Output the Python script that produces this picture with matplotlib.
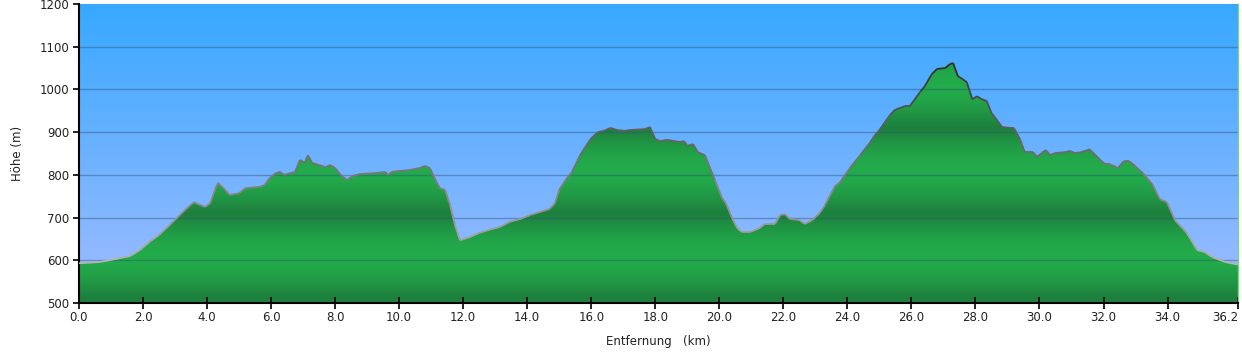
import numpy as np
import matplotlib
matplotlib.use("Agg")
import matplotlib.pyplot as plt
from matplotlib.colors import LinearSegmentedColormap
from matplotlib.patches import Polygon
from matplotlib.collections import LineCollection

# elevation profile
dist_km = [0.0, 0.66, 1.28, 1.6, 1.9, 2.2, 2.5, 2.84, 3.15, 3.47, 3.6, 3.8, 3.94, 4.1,
           4.25, 4.34, 4.56, 4.7, 5.0, 5.2, 5.65, 5.8, 5.96, 6.15, 6.28, 6.4, 6.75,
           6.9, 7.05, 7.15, 7.28, 7.5, 7.7, 7.84, 8.0, 8.15, 8.37, 8.53, 8.78, 9.24,
           9.56, 9.65, 9.78, 10.0, 10.3, 10.65, 10.8, 10.96, 11.1, 11.27, 11.43, 11.59,
           11.74, 11.9, 12.2, 12.5, 12.8, 13.15, 13.46, 13.8, 14.1, 14.4, 14.7, 14.87,
           15.0, 15.2, 15.4, 15.65, 15.96, 16.2, 16.4, 16.6, 16.8, 17.05, 17.2, 17.68,
           17.83, 18.0, 18.15, 18.36, 18.77, 18.9, 19.0, 19.18, 19.33, 19.55, 19.86,
           20.08, 20.2, 20.4, 20.55, 20.7, 20.96, 21.27, 21.42, 21.74, 21.9, 22.05,
           22.2, 22.5, 22.67, 22.9, 23.14, 23.3, 23.6, 23.77, 24.08, 24.4, 24.7, 24.86,
           25.0, 25.33, 25.48, 25.8, 25.95, 26.27, 26.42, 26.64, 26.8, 27.05, 27.2,
           27.3, 27.45, 27.6, 27.73, 27.9, 28.05, 28.2, 28.35, 28.5, 28.83, 29.08,
           29.2, 29.4, 29.54, 29.8, 29.92, 30.07, 30.2, 30.33, 30.48, 30.8, 30.95,
           31.1, 31.3, 31.5, 31.56, 31.9, 32.05, 32.2, 32.45, 32.63, 32.8, 32.98,
           33.23, 33.54, 33.76, 33.98, 34.23, 34.6, 34.92, 35.17, 35.38, 35.8, 36.2]
elev_m = [593, 596, 605, 610, 624, 643, 659, 683, 706, 729, 736, 729, 725, 734,
          765, 781, 765, 753, 757, 769, 772, 776, 793, 804, 807, 800, 807,
          835, 828, 846, 828, 823, 818, 823, 816, 802, 788, 797, 802, 804,
          807, 800, 807, 809, 811, 816, 821, 816, 793, 769, 765, 729,
          683, 647, 654, 664, 671, 678, 690, 697, 706, 713, 720, 734,
          765, 788, 807, 846, 882, 900, 903, 910, 905, 903, 905, 907,
          912, 884, 879, 882, 877, 879, 868, 872, 853, 846, 788,
          746, 734, 699, 676, 666, 666, 676, 685, 685, 706, 708,
          697, 694, 685, 694, 711, 729, 772, 783, 816, 846, 875, 893,
          905, 940, 952, 961, 961, 994, 1008, 1036, 1048, 1050, 1059,
          1062, 1031, 1024, 1017, 977, 984, 977, 973, 945, 912, 910,
          910, 882, 853, 853, 842, 851, 858, 846, 851, 853, 856,
          851, 853, 858, 860, 835, 825, 825, 816, 832, 832, 821,
          804, 776, 743, 736, 694, 664, 624, 619, 608, 596, 590]

x_ticks = [0, 2, 4, 6, 8, 10, 12, 14, 16, 18, 20, 22, 24, 26, 28, 30, 32, 34, 36.2]
y_ticks = [500, 600, 700, 800, 900, 1000, 1100, 1200]

x = np.array(dist_km)
y = np.array(elev_m)
xmax = 36.2

fig = plt.figure(figsize=(12.42, 3.53), dpi=100)
ax = fig.add_axes([79 / 1242, 1 - 303 / 353, 1159 / 1242, 299 / 353])
ax.set_xlim(0, xmax)
ax.set_ylim(500, 1200)

# sky gradient
sky = LinearSegmentedColormap.from_list("sky", ["#a2bcff", "#37a8ff"])
ax.imshow(np.linspace(0, 1, 256).reshape(-1, 1), cmap=sky, origin="lower",
          extent=[0, xmax, 500, 1200], aspect="auto", zorder=0)

# green terrain, darker bands at 500/700/900 m
h = np.linspace(500, 1200, 700)
band = (0.5 - 0.5 * np.cos(2 * np.pi * (h - 510) / 200)) ** 0.55
green = LinearSegmentedColormap.from_list("grn", ["#1d7f3d", "#23ab4b"])
terrain = Polygon(np.column_stack([np.r_[x, x[-1], x[0]], np.r_[y, 500, 500]]),
                  closed=True, facecolor="none", edgecolor="none")
ax.add_patch(terrain)
im = ax.imshow(band.reshape(-1, 1), cmap=green, origin="lower",
               extent=[0, xmax, 500, 1200], aspect="auto", zorder=1)
im.set_clip_path(terrain)

# grid lines on top
for v in y_ticks[1:-1]:
    ax.axhline(v, color="#2f5478", alpha=0.45, lw=1, zorder=2)

# outline, darker at the higher parts
pts = np.column_stack([x, y]).reshape(-1, 1, 2)
segs = np.concatenate([pts[:-1], pts[1:]], axis=1)
mid = (y[:-1] + y[1:]) / 2
shade = plt.get_cmap("Greys")(0.4 + 0.45 * (mid - 590) / 470)
ax.add_collection(LineCollection(segs, colors=shade, linewidths=1.3, zorder=3))

ax.set_xticks(x_ticks)
ax.set_xticklabels([f"{t:.1f}" for t in x_ticks])
ax.get_xticklabels()[-1].set_horizontalalignment("right")
ax.set_yticks(y_ticks)
ax.tick_params(axis="x", direction="inout", length=8, width=1.2, labelsize=8.5,
               labelcolor="#222222", pad=2)
ax.tick_params(axis="y", direction="out", length=4, width=1.2, labelsize=8.5,
               labelcolor="#222222", pad=3)

ax.spines["top"].set_visible(False)
ax.spines["left"].set_linewidth(1.5)
ax.spines["bottom"].set_linewidth(1.5)
ax.spines["right"].set_color("#7fd27f")
ax.spines["right"].set_linewidth(1)

ax.set_xlabel("Entfernung   (km)", fontsize=8.5, color="#222222", labelpad=8)
ax.set_ylabel("Höhe (m)", fontsize=8.5, color="#222222", labelpad=11)

fig.savefig("out.png", dpi=100)
